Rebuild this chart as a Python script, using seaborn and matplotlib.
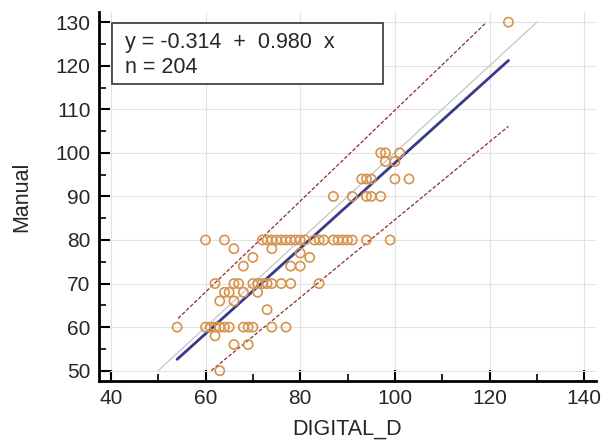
import matplotlib
matplotlib.use("Agg")
import matplotlib.pyplot as plt
import seaborn as sns
import pandas as pd
import numpy as np
from matplotlib.ticker import MultipleLocator
from matplotlib.patches import Rectangle

# ==========================================
# DADOS
# ==========================================
digital_d = [124,
             97, 98, 101,
             98, 100,
             93, 94, 95, 100, 103,
             87, 91, 94, 95, 97,
             60, 64, 72, 73, 74, 75, 76, 77, 78, 79, 80, 81, 83, 84, 85, 87, 88, 89, 90, 91, 94, 99,
             66, 74,
             80,
             70, 82,
             68, 78, 80,
             62, 66, 67, 70, 71, 72, 73, 74, 76, 78, 84,
             64, 65, 68, 71,
             63, 66,
             73,
             54, 60, 61, 62, 63, 64, 65, 68, 69, 70, 74, 77,
             62,
             66, 69,
             63]
manual = [130,
          100, 100, 100,
          98, 98,
          94, 94, 94, 94, 94,
          90, 90, 90, 90, 90,
          80, 80, 80, 80, 80, 80, 80, 80, 80, 80, 80, 80, 80, 80, 80, 80, 80, 80, 80, 80, 80, 80,
          78, 78,
          77,
          76, 76,
          74, 74, 74,
          70, 70, 70, 70, 70, 70, 70, 70, 70, 70, 70,
          68, 68, 68, 68,
          66, 66,
          64,
          60, 60, 60, 60, 60, 60, 60, 60, 60, 60, 60, 60,
          58,
          56, 56,
          50]

intercepto = -0.314
inclinacao = 0.980
n_total = 204

# limites de previsão (extremos)
sup_x = [54.2, 119.1]
sup_y = [62.0, 129.7]
inf_x = [61.2, 124.0]
inf_y = [50.0, 106.1]

# linha de identidade
ident = [50, 130]

df = pd.DataFrame({'DIGITAL_D': digital_d, 'Manual': manual})

# ==========================================
# GRÁFICO
# ==========================================
sns.set_theme(style="white")
plt.rcParams['font.family'] = ['Liberation Sans', 'DejaVu Sans']

fig = plt.figure(figsize=(6.02, 4.43), dpi=100)
ax = fig.add_axes([0.1645, 0.1406, 0.8256, 0.832])

ax.grid(True, which='major', color='#e2e2e2', linewidth=0.8)
ax.set_axisbelow(True)

# identidade
ax.plot(ident, ident, color='#c4c4c4', linewidth=0.9, zorder=2)

# limites
ax.plot(sup_x, sup_y, color='#8a2f2f', linewidth=0.9, linestyle=(0, (3, 1.5)), zorder=2)
ax.plot(inf_x, inf_y, color='#8a2f2f', linewidth=0.9, linestyle=(0, (3, 1.5)), zorder=2)

# regressão
reg_x = np.array([min(digital_d), max(digital_d)])
ax.plot(reg_x, intercepto + inclinacao * reg_x, color='#383a8a', linewidth=2.0, zorder=3)

sns.scatterplot(data=df, x='DIGITAL_D', y='Manual', marker='o', s=44,
                fc='none', ec='#d6934c', linewidth=1.2, ax=ax, zorder=4)

ax.set_xlim(37.5, 142.5)
ax.set_ylim(47.7, 132.3)
ax.xaxis.set_major_locator(MultipleLocator(20))
ax.xaxis.set_minor_locator(MultipleLocator(10))
ax.yaxis.set_major_locator(MultipleLocator(10))
ax.yaxis.set_minor_locator(MultipleLocator(5))
ax.tick_params(which='major', direction='in', length=8, width=1.5, labelsize=15, color='black', pad=6)
ax.tick_params(which='minor', direction='in', length=5, width=1.2, color='black')
ax.tick_params(axis='both', which='both', bottom=True, left=True)

for s in ['top', 'right']:
    ax.spines[s].set_visible(False)
for s in ['left', 'bottom']:
    ax.spines[s].set_color('black')
    ax.spines[s].set_linewidth(2)

ax.set_xlabel('DIGITAL_D', fontsize=15.5, labelpad=8)
ax.set_ylabel('Manual', fontsize=15.5, labelpad=17)

# caixa da equação
ax.add_patch(Rectangle((0.0256, 0.805), 0.5465, 0.1646, transform=ax.transAxes,
                       facecolor='white', edgecolor='#444444', linewidth=1.3, zorder=5))
ax.text(0.0523, 0.9018, f"y = {intercepto:.3f}  +  {inclinacao:.3f}  x", transform=ax.transAxes,
        fontsize=15.5, va='baseline', ha='left', zorder=6)
ax.text(0.0523, 0.8356, f"n = {n_total}", transform=ax.transAxes,
        fontsize=15.5, va='baseline', ha='left', zorder=6)

fig.savefig('out.png', dpi=100)
